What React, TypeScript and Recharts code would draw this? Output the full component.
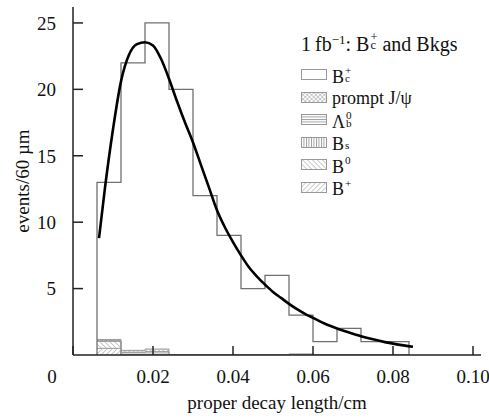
import { ComposedChart, Line, Area, XAxis, YAxis, Legend, Label } from 'recharts';

const FONT = '"Liberation Serif", "Times New Roman", serif';

// histogram bins, 60 um wide
const binEdges = [0.006, 0.012, 0.018, 0.024, 0.03, 0.036, 0.042, 0.048, 0.054, 0.06, 0.066, 0.072, 0.078, 0.084];
const bcCounts = [13, 22, 25, 20, 12, 9, 5, 6, 3, 1, 2, 1, 1];
const bPlusCounts = [0.5, 0, 0, 0, 0, 0, 0, 0, 0, 0, 0, 0, 0];
const b0Counts = [0.55, 0, 0, 0, 0, 0, 0, 0, 0, 0, 0, 0, 0];
const bsCounts = [0, 0, 0, 0, 0, 0, 0, 0, 0, 0, 0, 0, 0];
const lambdaCounts = [0, 0.2, 0.25, 0, 0, 0, 0, 0, 0, 0, 0, 0, 0];
const jpsiCounts = [0.12, 0.15, 0.2, 0, 0, 0, 0, 0, 0.08, 0, 0, 0, 0];

// fitted curve
const fitX = [0.0065, 0.008, 0.01, 0.012, 0.014, 0.016, 0.018, 0.02, 0.022, 0.024, 0.026, 0.028, 0.03, 0.032, 0.034, 0.036, 0.038, 0.04, 0.042, 0.044, 0.046, 0.048, 0.05, 0.052, 0.054, 0.056, 0.058, 0.06, 0.063, 0.066, 0.069, 0.072, 0.075, 0.078, 0.081, 0.085];
const fitY = [8.8, 12.6, 17.0, 20.6, 22.6, 23.4, 23.55, 23.3, 22.3, 20.8, 19.1, 17.5, 16.0, 14.3, 12.6, 10.9, 9.6, 8.5, 7.5, 6.6, 5.9, 5.3, 4.75, 4.3, 3.85, 3.45, 3.1, 2.8, 2.35, 2.0, 1.7, 1.42, 1.18, 0.97, 0.8, 0.62];

const xTicks = [0, 0.02, 0.04, 0.06, 0.08, 0.1];
const xTickLabels = ['0', '0.02', '0.04', '0.06', '0.08', '0.10'];
const yTicks = [5, 10, 15, 20, 25];

const bgRows = binEdges.map((x, i) => ({
  x,
  bplus: bPlusCounts[i] ?? 0,
  b0: b0Counts[i] ?? 0,
  bs: bsCounts[i] ?? 0,
  lambda: lambdaCounts[i] ?? 0,
  jpsi: jpsiCounts[i] ?? 0,
}));

const bcSteps = [
  { x: binEdges[0], y: 0 },
  ...bcCounts.map((y, i) => ({ x: binEdges[i], y })),
  { x: binEdges[binEdges.length - 1], y: 0 },
];

const fitPoints = fitX.map((x, i) => ({ x, y: fitY[i] }));

// stacked super/subscript, e.g. B_c^+
const SupSub = ({ sup, sub }: { sup?: string; sub?: string }) => (
  <span
    style={{
      display: 'inline-block',
      position: 'relative',
      width: '0.4em',
      height: '1em',
      verticalAlign: 'baseline',
    }}
  >
    {sup && <span style={{ position: 'absolute', left: 1, top: '0.03em', fontSize: '0.62em', lineHeight: 1 }}>{sup}</span>}
    {sub && <span style={{ position: 'absolute', left: 1, top: '0.7em', fontSize: '0.62em', lineHeight: 1 }}>{sub}</span>}
  </span>
);

const legendItems = [
  { fill: '#fff', label: <>B<SupSub sup="+" sub="c" /></> },
  { fill: 'url(#pat-jpsi)', label: <>prompt J/ψ</> },
  { fill: 'url(#pat-lambda)', label: <>Λ<SupSub sup="0" sub="b" /></> },
  { fill: 'url(#pat-bs)', label: <>B<SupSub sub="s" /></> },
  { fill: 'url(#pat-b0)', label: <>B<SupSub sup="0" /></> },
  { fill: 'url(#pat-bplus)', label: <>B<SupSub sup="+" /></> },
];

const LegendBox = () => (
  <div style={{ fontFamily: FONT, color: '#111', lineHeight: 1 }}>
    <div style={{ fontSize: 20, height: 24, display: 'flex', alignItems: 'center', marginBottom: 10, whiteSpace: 'nowrap' }}>
      <span>
        1&thinsp;fb<sup style={{ fontSize: '0.65em', verticalAlign: '0.55em' }}>−1</sup>: B<SupSub sup="+" sub="c" /> and Bkgs
      </span>
    </div>
    {legendItems.map((it, i) => (
      <div key={i} style={{ height: 22.5, display: 'flex', alignItems: 'center', fontSize: 18, whiteSpace: 'nowrap' }}>
        <svg width={27} height={12} style={{ marginRight: 4 }}>
          <rect x={0.5} y={0.5} width={25} height={10} fill={it.fill} stroke="#999" />
        </svg>
        <span>{it.label}</span>
      </div>
    ))}
  </div>
);

const XTick = (props: any) => {
  const { x, y, payload } = props;
  const idx = xTicks.indexOf(payload.value);
  return (
    <text
      x={payload.value === 0 ? x - 21 : x}
      y={y}
      dy="0.71em"
      textAnchor="middle"
      fontSize={19}
      fontFamily={FONT}
      fill="#111"
    >
      {xTickLabels[idx] ?? payload.value}
    </text>
  );
};

const hatch = '#8a8a8a';

export default function App() {
  return (
    <div style={{ position: 'absolute', left: 0, top: 0, background: '#fff' }}>
      <ComposedChart width={489} height={419} data={bgRows} margin={{ top: 7, right: 8, bottom: 0, left: 0 }}>
        <defs>
          <pattern id="pat-bplus" width="3.5" height="3.5" patternUnits="userSpaceOnUse" patternTransform="rotate(45)">
            <line x1="0" y1="0" x2="0" y2="3.5" stroke={hatch} strokeWidth="0.9" />
          </pattern>
          <pattern id="pat-b0" width="3.5" height="3.5" patternUnits="userSpaceOnUse" patternTransform="rotate(-45)">
            <line x1="0" y1="0" x2="0" y2="3.5" stroke={hatch} strokeWidth="0.9" />
          </pattern>
          <pattern id="pat-bs" width="2.5" height="2.5" patternUnits="userSpaceOnUse">
            <line x1="0.5" y1="0" x2="0.5" y2="2.5" stroke={hatch} strokeWidth="0.8" />
          </pattern>
          <pattern id="pat-lambda" width="2.5" height="2.5" patternUnits="userSpaceOnUse">
            <line x1="0" y1="0.5" x2="2.5" y2="0.5" stroke={hatch} strokeWidth="0.8" />
          </pattern>
          <pattern id="pat-jpsi" width="3" height="3" patternUnits="userSpaceOnUse" patternTransform="rotate(45)">
            <line x1="0" y1="0" x2="0" y2="3" stroke={hatch} strokeWidth="0.8" />
            <line x1="0" y1="0" x2="3" y2="0" stroke={hatch} strokeWidth="0.8" />
          </pattern>
        </defs>

        <XAxis
          dataKey="x"
          type="number"
          domain={[0, 0.102]}
          allowDataOverflow
          ticks={xTicks}
          interval={0}
          height={64}
          tickSize={-9}
          tickMargin={24}
          tick={<XTick />}
          axisLine={{ stroke: '#222', strokeWidth: 1.5 }}
          tickLine={{ stroke: '#222', strokeWidth: 1.5 }}
        >
          <Label
            value="proper decay length/cm"
            position="insideBottom"
            offset={10}
            style={{ fontSize: 19, fontFamily: FONT, fill: '#111' }}
          />
        </XAxis>
        <XAxis
          xAxisId="top"
          orientation="top"
          dataKey="x"
          type="number"
          domain={[0, 0.102]}
          height={0}
          tick={false}
          tickLine={false}
          axisLine={{ stroke: '#222', strokeWidth: 1.2 }}
        />
        <YAxis
          type="number"
          domain={[0, 26.2]}
          allowDataOverflow
          ticks={yTicks}
          interval={0}
          width={73}
          tickSize={-10}
          tickMargin={27}
          tick={{ fontSize: 19, fontFamily: FONT, fill: '#111' }}
          axisLine={{ stroke: '#222', strokeWidth: 1.5 }}
          tickLine={{ stroke: '#222', strokeWidth: 1.5 }}
        >
          <Label
            value="events/60 µm"
            angle={-90}
            position="insideLeft"
            offset={22}
            style={{ fontSize: 19, fontFamily: FONT, fill: '#111', textAnchor: 'middle' }}
          />
        </YAxis>
        <YAxis
          yAxisId="right"
          orientation="right"
          domain={[0, 26.2]}
          width={0}
          tick={false}
          tickLine={false}
          axisLine={{ stroke: '#222', strokeWidth: 1.2 }}
        />

        <Legend
          layout="horizontal"
          verticalAlign="middle"
          align="center"
          content={<LegendBox />}
          wrapperStyle={{ position: 'absolute', left: 301, top: 30, width: 185 }}
        />

        <Area dataKey="bplus" stackId="bg" type="stepAfter" fill="url(#pat-bplus)" stroke="#999" strokeWidth={1} fillOpacity={1} isAnimationActive={false} legendType="none" />
        <Area dataKey="b0" stackId="bg" type="stepAfter" fill="url(#pat-b0)" stroke="#999" strokeWidth={1} fillOpacity={1} isAnimationActive={false} legendType="none" />
        <Area dataKey="bs" stackId="bg" type="stepAfter" fill="url(#pat-bs)" stroke="#999" strokeWidth={1} fillOpacity={1} isAnimationActive={false} legendType="none" />
        <Area dataKey="lambda" stackId="bg" type="stepAfter" fill="url(#pat-lambda)" stroke="#999" strokeWidth={1} fillOpacity={1} isAnimationActive={false} legendType="none" />
        <Area dataKey="jpsi" stackId="bg" type="stepAfter" fill="url(#pat-jpsi)" stroke="#999" strokeWidth={1} fillOpacity={1} isAnimationActive={false} legendType="none" />

        <Line data={bcSteps} dataKey="y" type="stepAfter" stroke="#707070" strokeWidth={1.3} dot={false} isAnimationActive={false} legendType="none" />
        <Line data={fitPoints} dataKey="y" type="monotone" stroke="#000" strokeWidth={2.6} dot={false} isAnimationActive={false} legendType="none" />
      </ComposedChart>
    </div>
  );
}
